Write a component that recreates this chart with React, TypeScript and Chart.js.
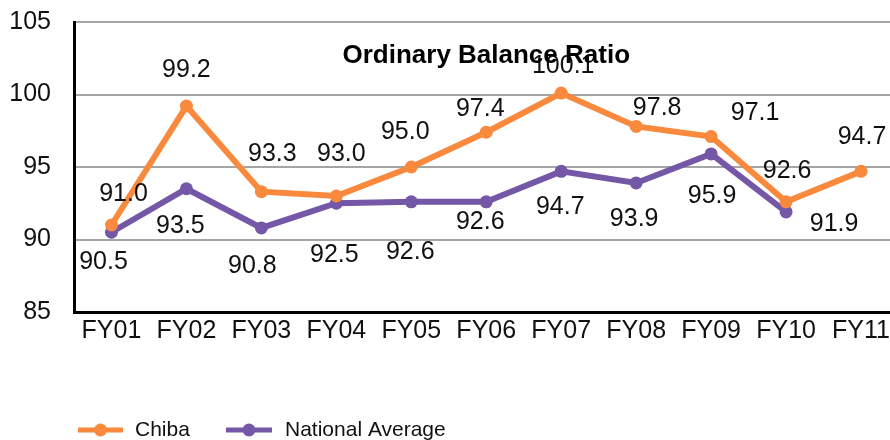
import React, { useEffect, useRef } from "react";
import { Chart, registerables } from "chart.js";

Chart.register(...registerables);

const categories = ["FY01", "FY02", "FY03", "FY04", "FY05", "FY06", "FY07", "FY08", "FY09", "FY10", "FY11"];
const chibaValues = [91.0, 99.2, 93.3, 93.0, 95.0, 97.4, 100.1, 97.8, 97.1, 92.6, 94.7];
const nationalValues = [90.5, 93.5, 90.8, 92.5, 92.6, 92.6, 94.7, 93.9, 95.9, 91.9, null];
const seriesNames = ["Chiba", "National Average"];
const chartTitle = "Ordinary Balance Ratio";
const yMin = 85;
const yMax = 105;
const yStep = 5;

// label placement (pixel offsets from each point)
const chibaLabelOffsets = [[12, -31], [0, -36], [11, -38], [5, -42], [-6, -35], [-6, -23], [2, -27], [21, -18], [44, -23], [1, -31], [1, -34]];
const nationalLabelOffsets = [[-8, 30], [-6, 37], [-9, 38], [-2, 52], [-1, 50], [-6, 20], [-1, 36], [-2, 36], [1, 42], [48, 12]];

const ORANGE = "#F98A3D";
const PURPLE = "#7457A7";
const FONT = 'Arial, "Liberation Sans", sans-serif';

const overlayPlugin = {
  id: "overlay",
  afterDatasetsDraw(chart: any) {
    const ctx = chart.ctx;
    const area = chart.chartArea;
    ctx.save();
    ctx.font = `25px ${FONT}`;
    ctx.fillStyle = "#111";
    ctx.textAlign = "center";
    ctx.textBaseline = "middle";
    const offs = [chibaLabelOffsets, nationalLabelOffsets];
    chart.data.datasets.forEach((ds: any, di: number) => {
      const meta = chart.getDatasetMeta(di);
      meta.data.forEach((pt: any, i: number) => {
        const v = ds.data[i];
        if (v === null || v === undefined) return;
        const o = offs[di][i] || [0, 0];
        ctx.fillText(v.toFixed(1), pt.x + o[0], pt.y + o[1]);
      });
    });
    ctx.font = `bold 26px ${FONT}`;
    ctx.fillStyle = "#000";
    ctx.fillText(chartTitle, (area.left + area.right) / 2, area.top + 34);
    ctx.restore();
  },
  afterDraw(chart: any) {
    const ctx = chart.ctx;
    ctx.save();
    const y = 430;
    const items = [
      { color: ORANGE, x0: 78, x1: 123, tx: 135, name: seriesNames[0] },
      { color: PURPLE, x0: 226, x1: 272, tx: 285, name: seriesNames[1] },
    ];
    items.forEach((it) => {
      ctx.strokeStyle = it.color;
      ctx.lineWidth = 5;
      ctx.beginPath();
      ctx.moveTo(it.x0, y);
      ctx.lineTo(it.x1, y);
      ctx.stroke();
      ctx.fillStyle = it.color;
      ctx.beginPath();
      ctx.arc((it.x0 + it.x1) / 2, y, 6.5, 0, Math.PI * 2);
      ctx.fill();
      ctx.fillStyle = "#111";
      ctx.font = `21px ${FONT}`;
      ctx.textAlign = "left";
      ctx.textBaseline = "middle";
      ctx.fillText(it.name, it.tx, y);
    });
    ctx.restore();
  },
};

export default function App() {
  const ref = useRef<HTMLCanvasElement | null>(null);
  useEffect(() => {
    if (!ref.current) return;
    const chart = new Chart(ref.current, {
      type: "line",
      data: {
        labels: categories,
        datasets: [
          {
            label: seriesNames[0],
            data: chibaValues,
            borderColor: ORANGE,
            backgroundColor: ORANGE,
            borderWidth: 6,
            pointRadius: 6.5,
            pointBorderWidth: 0,
            pointBackgroundColor: ORANGE,
            tension: 0,
          },
          {
            label: seriesNames[1],
            data: nationalValues as any,
            borderColor: PURPLE,
            backgroundColor: PURPLE,
            borderWidth: 6,
            pointRadius: 6.5,
            pointBorderWidth: 0,
            pointBackgroundColor: PURPLE,
            tension: 0,
          },
        ],
      },
      options: {
        responsive: false,
        animation: false,
        devicePixelRatio: 1,
        layout: { padding: { top: 22, right: 0, bottom: 0, left: 0 } },
        plugins: {
          legend: { display: false },
          title: { display: false },
          tooltip: { enabled: false },
        },
        scales: {
          x: {
            offset: true,
            grid: { display: false, drawTicks: false },
            border: { display: true, color: "#000", width: 3 },
            ticks: { color: "#111", font: { family: FONT, size: 25 }, padding: 4, maxRotation: 0, autoSkip: false },
            afterFit: (s: any) => {
              s.height = 128;
              s.paddingLeft = 0;
              s.paddingRight = 0;
            },
          },
          y: {
            min: yMin,
            max: yMax,
            grid: {
              drawTicks: false,
              color: (c: any) => (c.tick && c.tick.value === yMin ? "rgba(0,0,0,0)" : "#A5A5A5"),
              lineWidth: 2,
            },
            border: { display: true, color: "#000", width: 3 },
            ticks: { stepSize: yStep, color: "#111", font: { family: FONT, size: 25 }, padding: 23 },
            afterFit: (s: any) => {
              s.width = 74;
              s.paddingTop = 0;
              s.paddingBottom = 0;
            },
          },
        },
      },
      plugins: [overlayPlugin],
    });
    return () => chart.destroy();
  }, []);
  return (
    <div style={{ position: "fixed", left: 0, top: 0, width: 905, height: 440, background: "#fff" }}>
      <canvas ref={ref} width={905} height={440} style={{ display: "block" }} />
    </div>
  );
}
